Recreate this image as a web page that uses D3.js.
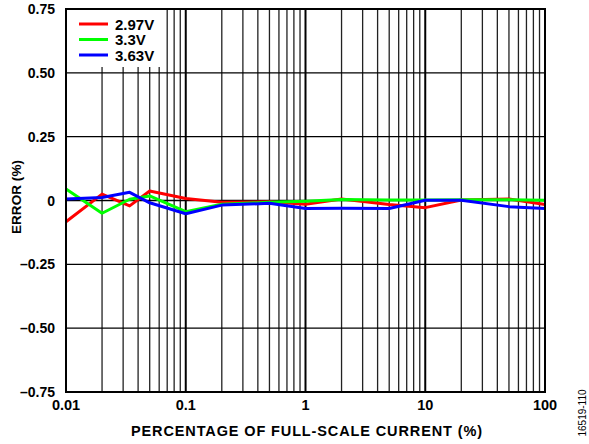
<!DOCTYPE html>
<html>
<head>
<meta charset="utf-8">
<script src="https://cdn.jsdelivr.net/npm/d3@7"></script>
<style>
  body { margin: 0; background: #fff; }
  svg { display: block; font-family: "Liberation Sans", Arial, sans-serif; }
</style>
</head>
<body>
<div id="chart"></div>
<script>
// Percentage of full-scale current (log axis)
const current = [0.01, 0.02, 0.034, 0.05, 0.1, 0.2, 0.5, 1, 2, 5, 10, 20, 50, 100];

// Error (%) per supply voltage
const err297 = [-0.083, 0.025, -0.021, 0.037, 0.008, -0.007, -0.005, -0.015, 0.006, -0.016, -0.028, 0.002, 0.006, -0.016];
const err330 = [0.045, -0.05, 0.005, 0.018, -0.044, -0.015, -0.007, -0.003, 0.004, 0.002, 0.002, 0.003, 0.003, 0.001];
const err363 = [0.006, 0.012, 0.032, -0.009, -0.052, -0.018, -0.011, -0.031, -0.03, -0.031, 0.001, 0.001, -0.024, -0.031];

const seriesNames = ["2.97V", "3.3V", "3.63V"];
const seriesColors = ["#ff0000", "#00ff00", "#0000ff"];

const xTicks = [0.01, 0.1, 1, 10, 100];
const yTicks = [-0.75, -0.5, -0.25, 0, 0.25, 0.5, 0.75];
const yTickLabels = ["\u20130.75", "\u20130.50", "\u20130.25", "0", "0.25", "0.50", "0.75"];

const width = 589, height = 444;
const margin = { top: 9, right: 44, bottom: 52, left: 66 };
const innerW = width - margin.left - margin.right;
const innerH = height - margin.top - margin.bottom;

const svg = d3.select("#chart").append("svg")
  .attr("width", width)
  .attr("height", height);

const x = d3.scaleLog().domain([0.01, 100]).range([margin.left, margin.left + innerW]);
const y = d3.scaleLinear().domain([-0.75, 0.75]).range([margin.top + innerH, margin.top]);

// vertical grid: minor + decade lines
const minor = x.ticks().filter(d => !xTicks.some(t => Math.abs(t - d) / t < 1e-6));
svg.append("g")
  .selectAll("line")
  .data(minor)
  .join("line")
  .attr("x1", d => x(d)).attr("x2", d => x(d))
  .attr("y1", y(-0.75)).attr("y2", y(0.75))
  .attr("stroke", "#222")
  .attr("stroke-width", 1.3);

svg.append("g")
  .selectAll("line")
  .data(xTicks)
  .join("line")
  .attr("x1", d => x(d)).attr("x2", d => x(d))
  .attr("y1", y(-0.75)).attr("y2", y(0.75))
  .attr("stroke", "#000")
  .attr("stroke-width", 2);

// horizontal grid
svg.append("g")
  .selectAll("line")
  .data(yTicks)
  .join("line")
  .attr("x1", x(0.01)).attr("x2", x(100))
  .attr("y1", d => y(d)).attr("y2", d => y(d))
  .attr("stroke", "#000")
  .attr("stroke-width", 1.3);

// legend background hides grid behind it
svg.append("rect")
  .attr("x", x(0.01) + 1)
  .attr("y", y(0.75) + 1)
  .attr("width", 96)
  .attr("height", 57)
  .attr("fill", "#fff");

// series lines
const line = d3.line()
  .x((d, i) => x(current[i]))
  .y(d => y(d));

[err297, err330, err363].forEach((s, k) => {
  svg.append("path")
    .datum(s)
    .attr("d", line)
    .attr("fill", "none")
    .attr("stroke", seriesColors[k])
    .attr("stroke-width", 3)
    .attr("stroke-linejoin", "round");
});

// frame
svg.append("rect")
  .attr("x", x(0.01)).attr("y", y(0.75))
  .attr("width", innerW).attr("height", innerH)
  .attr("fill", "none")
  .attr("stroke", "#000")
  .attr("stroke-width", 2);

// legend
const legend = svg.append("g");
seriesNames.forEach((name, k) => {
  const ly = 24 + k * 15.5;
  legend.append("line")
    .attr("x1", 79).attr("x2", 108)
    .attr("y1", ly).attr("y2", ly)
    .attr("stroke", seriesColors[k])
    .attr("stroke-width", 3);
  legend.append("text")
    .attr("x", 115).attr("y", ly + 5.5)
    .attr("font-size", 15)
    .attr("font-weight", "bold")
    .text(name);
});

// y tick labels
svg.append("g")
  .selectAll("text")
  .data(yTicks)
  .join("text")
  .attr("x", 55)
  .attr("y", d => y(d) + 5)
  .attr("text-anchor", "end")
  .attr("font-size", 14)
  .attr("font-weight", "bold")
  .text((d, i) => yTickLabels[i]);

// x tick labels
svg.append("g")
  .selectAll("text")
  .data(xTicks)
  .join("text")
  .attr("x", d => x(d))
  .attr("y", 410)
  .attr("text-anchor", "middle")
  .attr("font-size", 14.5)
  .attr("font-weight", "bold")
  .text(d => d3.format("~g")(d));

// axis titles
svg.append("text")
  .attr("x", 131).attr("y", 436)
  .attr("font-size", 14.5)
  .attr("font-weight", "bold")
  .attr("textLength", 351)
  .attr("lengthAdjust", "spacing")
  .text("PERCENTAGE OF FULL-SCALE CURRENT (%)");

svg.append("text")
  .attr("transform", "translate(21,234) rotate(-90)")
  .attr("font-size", 13.5)
  .attr("font-weight", "bold")
  .attr("textLength", 74)
  .attr("lengthAdjust", "spacing")
  .text("ERROR (%)");

svg.append("text")
  .attr("transform", "translate(586,413) rotate(-90)")
  .attr("text-anchor", "middle")
  .attr("font-size", 10)
  .text("16519-110");
</script>
</body>
</html>
